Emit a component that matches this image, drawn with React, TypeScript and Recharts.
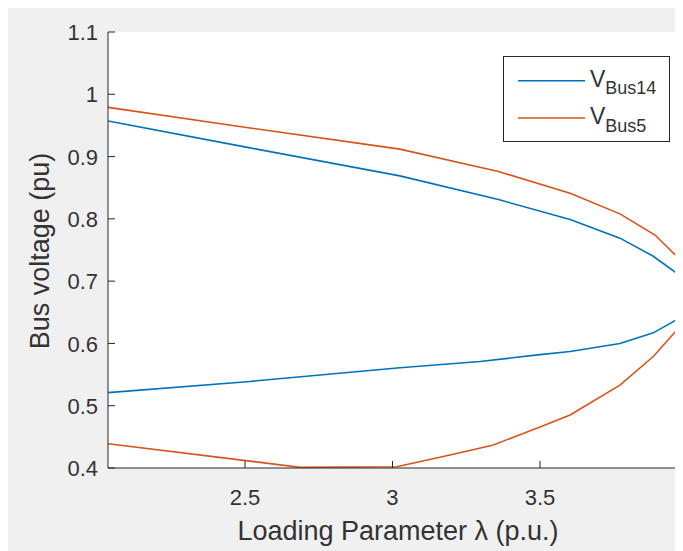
import { LineChart, Line, XAxis, YAxis, CartesianGrid, Legend } from 'recharts'

// loading parameter (lambda) and voltage along each PV curve, upper branch then lower branch
const lambdaBus14 = [2.036, 2.517, 3.025, 3.359, 3.602, 3.771, 3.884, 3.963, 3.985, 3.998, 3.985, 3.963, 3.884, 3.771, 3.602, 3.5, 3.297, 3.025, 2.517, 2.036]
const voltBus14 = [0.957, 0.914, 0.869, 0.831, 0.799, 0.769, 0.74, 0.713, 0.696, 0.674, 0.651, 0.638, 0.617, 0.6, 0.587, 0.582, 0.571, 0.561, 0.539, 0.521]

const lambdaBus5 = [2.036, 2.517, 3.025, 3.359, 3.602, 3.771, 3.89, 3.963, 3.985, 3.997, 3.985, 3.963, 3.884, 3.771, 3.602, 3.5, 3.342, 3.195, 3.014, 2.686, 2.517, 2.036]
const voltBus5 = [0.979, 0.946, 0.912, 0.876, 0.841, 0.808, 0.774, 0.74, 0.718, 0.683, 0.645, 0.621, 0.579, 0.533, 0.485, 0.466, 0.437, 0.421, 0.402, 0.401, 0.411, 0.439]

const xTicks = [2.5, 3, 3.5, 4]
const yTicks = [0.4, 0.5, 0.6, 0.7, 0.8, 0.9, 1, 1.1]

const seriesNames = ['V_Bus14', 'V_Bus5']
const seriesColors = ['#0072BD', '#D95319']

const bus14 = lambdaBus14.map((x, i) => ({ x, v: voltBus14[i] }))
const bus5 = lambdaBus5.map((x, i) => ({ x, v: voltBus5[i] }))

const FONT = '"Liberation Sans", Arial, sans-serif'
const INK = '#262626'
const TXT = '#333'

const LeftTick = ({ x, y, payload }: any) => (
  <g>
    <line x1={x} x2={x + 7} y1={y} y2={y} stroke={INK} />
    <text x={x - 10} y={y} dy="0.37em" textAnchor="end" fontSize={22} fill={TXT} fontFamily={FONT}>{String(payload.value)}</text>
  </g>
)
const RightTick = ({ x, y }: any) => <line x1={x} x2={x - 7} y1={y} y2={y} stroke={INK} />
const BottomTick = ({ x, y, payload }: any) => (
  <g>
    <line x1={x} x2={x} y1={y} y2={y - 7} stroke={INK} />
    <text x={x} y={y + 29} dy="0.36em" textAnchor="middle" fontSize={22} fill={TXT} fontFamily={FONT}>{String(payload.value)}</text>
  </g>
)
const TopTick = ({ x, y }: any) => <line x1={x} x2={x} y1={y} y2={y + 7} stroke={INK} />

const LegendBox = ({ payload }: any) => (
  <svg width={167} height={86} style={{ display: 'block' }}>
    <rect x={0.5} y={0.5} width={166} height={85} fill="#fff" stroke={INK} />
    {(payload || []).map((p: any, i: number) => {
      const cy = 24.7 + i * 37.3
      const [main, sub] = String(p.value).split('_')
      return (
        <g key={i}>
          <line x1={15} x2={82} y1={cy} y2={cy} stroke={p.color} strokeWidth={1.6} />
          <text x={87} y={cy + 6} fontSize={23} fill={TXT} fontFamily={FONT}>
            {main}
            <tspan fontSize={18} dy={7.5}>{sub}</tspan>
          </text>
        </g>
      )
    })}
  </svg>
)

export default function App() {
  return (
    <div style={{ width: 675, height: 543, overflow: 'hidden', background: '#f0f0f0', position: 'relative' }}>
      <LineChart width={700} height={543} margin={{ top: 24, right: 20.5, bottom: 0, left: 0 }}>
        <CartesianGrid fill="#fff" stroke="none" />
        <XAxis
          dataKey="x" type="number" domain={[2.0356, 4]} allowDataOverflow ticks={xTicks}
          height={83} tickSize={0} tickMargin={0} tickLine={false} stroke={INK} tick={<BottomTick />}
          label={{
            content: () => (
              <text x={390} y={532} textAnchor="middle" fontSize={27} fill={TXT} fontFamily={FONT}>
                Loading Parameter λ (p.u.)
              </text>
            ),
          }}
        />
        <XAxis
          xAxisId="top" orientation="top" dataKey="x" type="number" domain={[2.0356, 4]} allowDataOverflow
          ticks={xTicks} height={0} tickSize={0} tickMargin={0} tickLine={false} stroke={INK} tick={<TopTick />}
        />
        <YAxis
          type="number" domain={[0.4, 1.1]} allowDataOverflow ticks={yTicks} width={100}
          tickSize={0} tickMargin={0} tickLine={false} stroke={INK} tick={<LeftTick />}
          label={{
            content: () => (
              <text x={32} y={243} textAnchor="middle" dominantBaseline="central" fontSize={27} fill={TXT}
                fontFamily={FONT} transform="rotate(-90 32 243)">
                Bus voltage (pu)
              </text>
            ),
          }}
        />
        <YAxis
          yAxisId="r" orientation="right" type="number" domain={[0.4, 1.1]} allowDataOverflow ticks={yTicks}
          width={0} tickSize={0} tickMargin={0} tickLine={false} stroke={INK} tick={<RightTick />}
        />
        <Line data={bus14} dataKey="v" name={seriesNames[0]} stroke={seriesColors[0]} strokeWidth={1.6}
          dot={false} type="linear" isAnimationActive={false} />
        <Line data={bus5} dataKey="v" name={seriesNames[1]} stroke={seriesColors[1]} strokeWidth={1.6}
          dot={false} type="linear" isAnimationActive={false} />
        <Legend layout="vertical" align="center" verticalAlign="middle" content={<LegendBox />}
          wrapperStyle={{ left: 495, top: 48, width: 167, height: 86 }} />
      </LineChart>
    </div>
  )
}
